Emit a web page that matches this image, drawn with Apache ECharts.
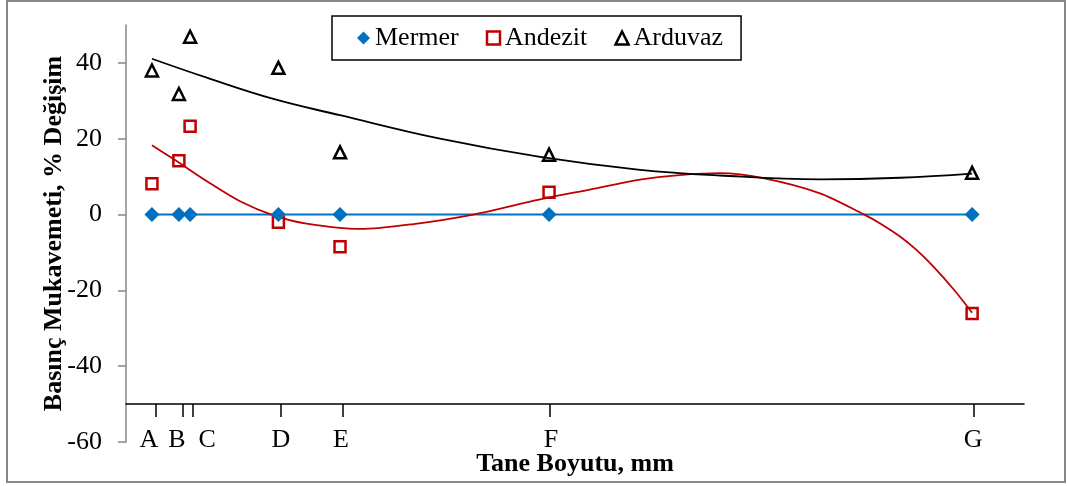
<!DOCTYPE html>
<html>
<head>
<meta charset="utf-8">
<script src="https://cdn.jsdelivr.net/npm/echarts@6/dist/echarts.min.js"></script>
<style>
html,body{margin:0;padding:0;background:#fff;}
#chart{width:1067px;height:486px;}
</style>
</head>
<body>
<div id="chart"></div>
<script>
// Categories (grain size classes) and their positions on the numeric size axis
const xLetters = ['A', 'B', 'C', 'D', 'E', 'F', 'G'];
const sizes = [1.04, 2.12, 2.57, 6.11, 8.58, 16.96, 33.92];
// Tick and label positions for the letter axis
const tickPos = [1.2, 2.27, 2.69, 6.21, 8.69, 17.0, 33.97];
const labelPos = [0.92, 2.04, 3.25, 6.21, 8.62, 17.04, 33.96];
// Y tick labels
const yTicks = [-60, -40, -20, 0, 20, 40];

// Series values (% change)
const mermer = [0, 0, 0, 0, 0, 0, 0];
const andezit = [8.1, 14.2, 23.3, -2.0, -8.5, 5.9, -26.1];
const arduvaz = [38.0, 31.8, 46.9, 38.7, 16.4, 15.8, 11.0];

// Trend curves
const andezitTrendX = [1.04, 2.03, 3.24, 4.57, 5.91, 7.24, 9.38, 11.53, 13.92, 16.6, 18.6, 20.61, 22.2, 23.81, 25.54, 27.82, 29.56, 30.3, 31.03, 31.7, 32.36, 33.2, 33.92];
const andezitTrendY = [18.3, 14.1, 8.8, 3.5, -0.2, -2.4, -3.8, -2.5, 0, 4.0, 6.6, 9.2, 10.4, 10.9, 9.6, 5.6, 0.1, -2.6, -5.8, -9.4, -13.7, -19.9, -25.9];
const arduvazTrendX = [1.04, 3.24, 5.91, 8.58, 12.59, 16.6, 20.61, 23.81, 27.82, 31.03, 33.92];
const arduvazTrendY = [41.1, 36.1, 30.5, 26.2, 20.0, 15.2, 11.8, 10.3, 9.3, 9.7, 10.8];

const FONT = 'Liberation Serif';
const pairs = (xs, ys) => xs.map((x, i) => [x, ys[i]]);

const chart = echarts.init(document.getElementById('chart'), null, {renderer: 'canvas'});
chart.setOption({
  animation: false,
  backgroundColor: '#fff',
  graphic: [{
    type: 'rect',
    shape: {x: 7, y: 1, width: 1058, height: 481},
    style: {fill: 'none', stroke: '#878787', lineWidth: 2},
    silent: true
  }],
  grid: {left: 126, right: 43, top: 25, bottom: 44, containLabel: false, outerBoundsMode: 'none'},
  legend: {
    left: 332, top: 16,
    padding: [9, 18, 9, 25],
    borderColor: '#000', borderWidth: 1.5,
    itemGap: 27, itemWidth: 13, itemHeight: 13,
    textStyle: {fontFamily: FONT, fontSize: 26, color: '#000'},
    data: [
      {name: 'Mermer', icon: 'diamond', itemStyle: {color: '#0070C0', borderWidth: 0}},
      {name: 'Andezit', icon: 'rect', itemStyle: {color: '#fff', borderColor: '#C00000', borderWidth: 2.5}},
      {name: 'Arduvaz', icon: 'triangle', itemStyle: {color: '#fff', borderColor: '#000', borderWidth: 2.5}}
    ]
  },
  xAxis: {
    type: 'value', min: 0, max: 36,
    name: 'Tane Boyutu, mm', nameLocation: 'middle', nameGap: 9, nameMoveOverlap: false,
    nameTextStyle: {fontFamily: FONT, fontSize: 26, fontWeight: 'bold', color: '#000'},
    axisLine: {show: true, onZero: true, onZeroAxisIndex: 1, lineStyle: {color: '#000', width: 1.5}},
    axisTick: {show: true, customValues: tickPos, length: 13, lineStyle: {color: '#000', width: 1.5}},
    axisLabel: {
      show: true, customValues: labelPos, margin: -15,
      fontFamily: FONT, fontSize: 26, color: '#000',
      formatter: function (v) {
        let best = 0;
        for (let i = 1; i < labelPos.length; i++) {
          if (Math.abs(labelPos[i] - v) < Math.abs(labelPos[best] - v)) best = i;
        }
        return xLetters[best];
      }
    },
    splitLine: {show: false}
  },
  yAxis: [{
    type: 'value', min: -60, max: 50, interval: 20,
    name: 'Basınç Mukavemeti, % Değişim', nameLocation: 'middle', nameGap: 59, nameMoveOverlap: false,
    nameTextStyle: {fontFamily: FONT, fontSize: 26, fontWeight: 'bold', color: '#000'},
    axisLine: {show: true, onZero: false, lineStyle: {color: '#878787', width: 1.5}},
    axisTick: {show: true, customValues: yTicks, length: 8, lineStyle: {color: '#878787', width: 1.5}},
    axisLabel: {show: true, customValues: yTicks, margin: 24, fontFamily: FONT, fontSize: 26, color: '#000'},
    splitLine: {show: false}
  }, {
    type: 'value', min: -10, max: 100, show: false
  }],
  series: [
    {
      name: 'Mermer', type: 'line', yAxisIndex: 0,
      data: pairs(sizes, mermer),
      symbol: 'diamond', symbolSize: 15,
      itemStyle: {color: '#0070C0'},
      lineStyle: {color: '#0070C0', width: 2}
    },
    {
      name: 'Andezit trend', type: 'line', yAxisIndex: 0, silent: true,
      data: pairs(andezitTrendX, andezitTrendY),
      smooth: 0.3, showSymbol: false, symbol: 'none',
      lineStyle: {color: '#C00000', width: 1.8}
    },
    {
      name: 'Arduvaz trend', type: 'line', yAxisIndex: 0, silent: true,
      data: pairs(arduvazTrendX, arduvazTrendY),
      smooth: 0.4, showSymbol: false, symbol: 'none',
      lineStyle: {color: '#000', width: 1.8}
    },
    {
      name: 'Andezit', type: 'scatter', yAxisIndex: 0,
      data: pairs(sizes, andezit),
      symbol: 'rect', symbolSize: 11,
      itemStyle: {color: '#fff', borderColor: '#C00000', borderWidth: 2.5, opacity: 1}
    },
    {
      name: 'Arduvaz', type: 'scatter', yAxisIndex: 0,
      data: pairs(sizes, arduvaz),
      symbol: 'triangle', symbolSize: 12,
      itemStyle: {color: '#fff', borderColor: '#000', borderWidth: 2.5, opacity: 1}
    }
  ]
});
</script>
</body>
</html>
